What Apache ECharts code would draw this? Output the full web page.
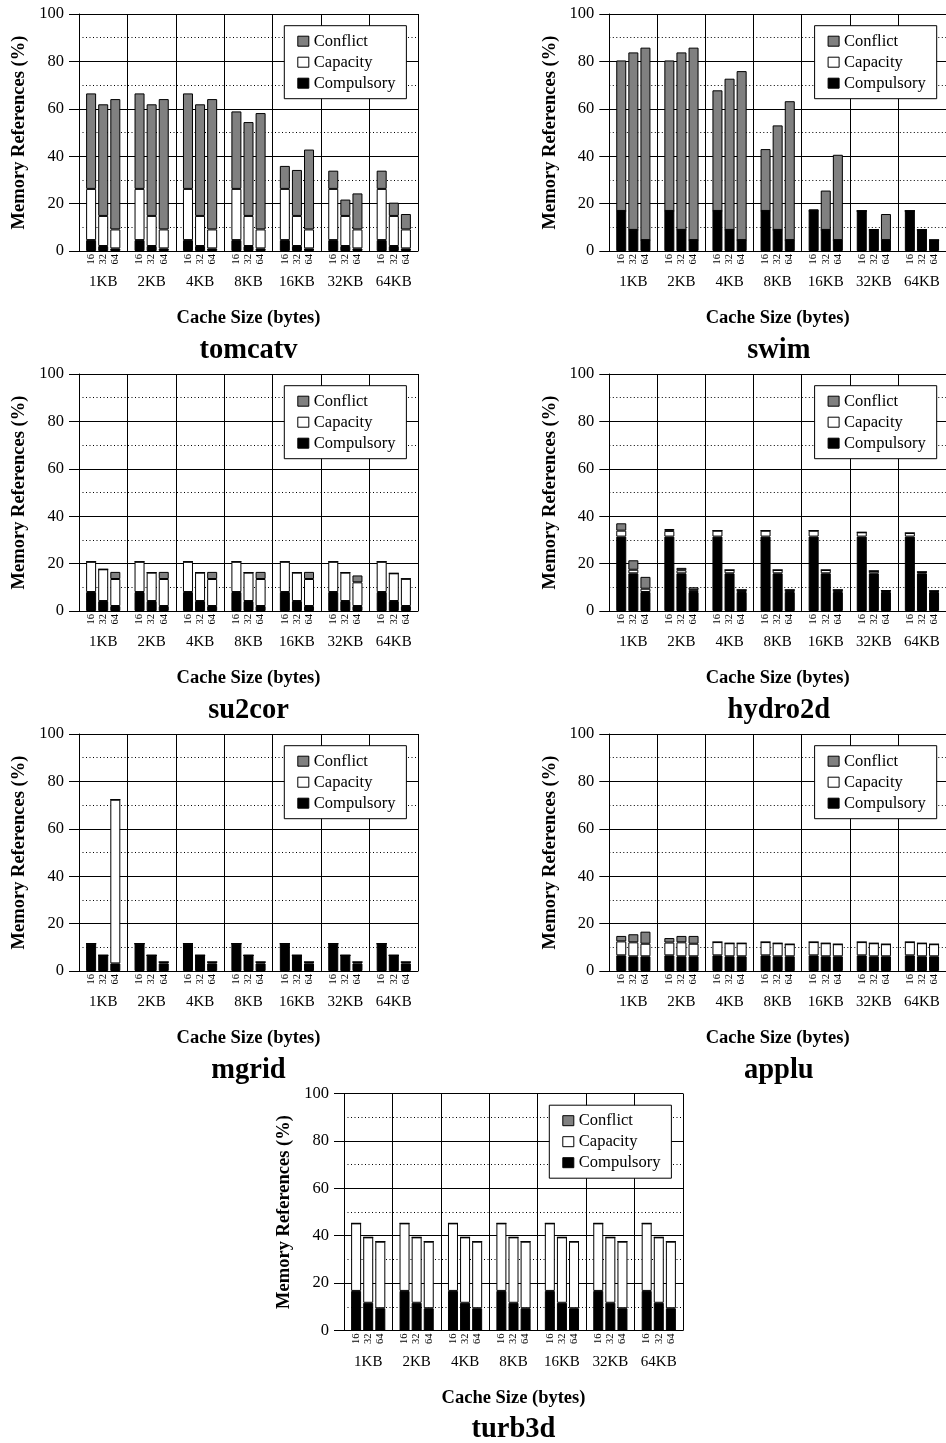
<!DOCTYPE html>
<html>
<head>
<meta charset="utf-8">
<script src="https://cdn.jsdelivr.net/npm/echarts@6/dist/echarts.min.js"></script>
<style>
html,body{margin:0;padding:0;background:#fff;}
#chart{width:946px;height:1443px;}
</style>
</head>
<body>
<div id="chart"></div>
<script>
// ---------------- DATA ----------------
const cacheSizes = ['1KB', '2KB', '4KB', '8KB', '16KB', '32KB', '64KB'];
const blockSizes = ['16', '32', '64'];
const componentNames = ['Compulsory', 'Capacity', 'Conflict'];
const benchmarks = ['tomcatv', 'swim', 'su2cor', 'hydro2d', 'mgrid', 'applu', 'turb3d'];

// each array: rows = block size 16 / 32 / 64, columns = cache sizes 1KB..64KB
const tomcatvCompulsory = [
  [4.6, 4.6, 4.6, 4.6, 4.6, 4.6, 4.6],
  [2.1, 2.1, 2.1, 2.1, 2.1, 2.1, 2.1],
  [1.1, 1.1, 1.1, 1.1, 1.1, 1.1, 1.1]];
const tomcatvCapacity = [
  [21.6, 21.6, 21.6, 21.6, 21.6, 21.6, 21.6],
  [12.7, 12.7, 12.7, 12.7, 12.7, 12.7, 12.7],
  [8.0, 8.0, 8.0, 8.0, 8.0, 8.0, 8.0]];
const tomcatvConflict = [
  [40.3, 40.3, 40.3, 32.7, 9.7, 7.7, 7.7],
  [47.1, 47.1, 47.1, 39.6, 19.4, 6.9, 5.6],
  [55.0, 55.0, 55.0, 49.1, 33.7, 15.2, 6.5]];

const swimCompulsory = [
  [16.9, 16.9, 16.9, 16.9, 16.9, 16.9, 16.9],
  [8.9, 8.9, 8.9, 8.9, 8.9, 8.9, 8.9],
  [4.6, 4.6, 4.6, 4.6, 4.6, 4.6, 4.6]];
const swimCapacity = [
  [0, 0, 0, 0, 0, 0, 0],
  [0, 0, 0, 0, 0, 0, 0],
  [0, 0, 0, 0, 0, 0, 0]];
const swimConflict = [
  [63.5, 63.5, 50.9, 26.1, 0.7, 0, 0],
  [74.9, 74.9, 63.8, 44.1, 16.6, 0.3, 0],
  [81.2, 81.2, 71.3, 58.6, 36.0, 11.0, 0]];

const su2corCompulsory = [
  [8.0, 8.0, 8.0, 8.0, 8.0, 8.0, 8.0],
  [4.2, 4.2, 4.2, 4.2, 4.2, 4.2, 4.2],
  [2.1, 2.1, 2.1, 2.1, 2.1, 2.1, 2.1]];
const su2corCapacity = [
  [12.8, 12.8, 12.8, 12.8, 12.8, 12.8, 12.8],
  [13.4, 12.0, 12.0, 12.0, 12.0, 12.0, 11.7],
  [11.4, 11.4, 11.4, 11.4, 11.4, 10.0, 11.5]];
const su2corConflict = [
  [0, 0, 0, 0, 0, 0, 0],
  [0, 0, 0, 0, 0, 0, 0],
  [3.0, 3.0, 3.0, 3.0, 3.0, 2.9, 0]];

const hydro2dCompulsory = [
  [31.4, 31.4, 31.4, 31.4, 31.4, 31.4, 31.4],
  [15.9, 15.9, 15.9, 15.9, 15.9, 15.9, 15.9],
  [8.0, 8.0, 8.0, 8.0, 8.0, 8.0, 8.0]];
const hydro2dCapacity = [
  [2.5, 2.4, 2.5, 2.5, 2.5, 1.8, 1.5],
  [1.5, 1.3, 1.4, 1.4, 1.4, 1.0, 0.6],
  [1.4, 0.8, 0.9, 0.9, 0.9, 0.6, 0.5]];
const hydro2dConflict = [
  [3.1, 0.8, 0, 0, 0, 0, 0],
  [4.0, 1.0, 0, 0, 0, 0, 0],
  [5.0, 1.2, 0, 0, 0, 0, 0]];

const mgridCompulsory = [
  [11.5, 11.5, 11.5, 11.5, 11.5, 11.5, 11.5],
  [6.6, 6.6, 6.6, 6.6, 6.6, 6.6, 6.6],
  [3.2, 3.2, 3.2, 3.2, 3.2, 3.2, 3.2]];
const mgridCapacity = [
  [0, 0, 0, 0, 0, 0, 0],
  [0, 0, 0, 0, 0, 0, 0],
  [69.1, 0.6, 0.6, 0.6, 0.6, 0.6, 0.6]];
const mgridConflict = [
  [0, 0, 0, 0, 0, 0, 0],
  [0, 0, 0, 0, 0, 0, 0],
  [0, 0, 0, 0, 0, 0, 0]];

const appluCompulsory = [
  [6.6, 6.6, 6.6, 6.6, 6.6, 6.6, 6.6],
  [6.2, 6.2, 6.2, 6.2, 6.2, 6.2, 6.2],
  [6.2, 6.2, 6.2, 6.2, 6.2, 6.2, 6.2]];
const appluCapacity = [
  [5.9, 5.4, 5.6, 5.6, 5.6, 5.6, 5.6],
  [5.9, 5.9, 5.5, 5.5, 5.5, 5.5, 5.5],
  [5.3, 5.3, 5.5, 5.1, 5.1, 5.1, 5.1]];
const appluConflict = [
  [2.3, 1.9, 0, 0, 0, 0, 0],
  [3.4, 2.7, 0, 0, 0, 0, 0],
  [5.1, 3.3, 0, 0, 0, 0, 0]];

const turb3dCompulsory = [
  [16.7, 16.7, 16.7, 16.7, 16.7, 16.7, 16.7],
  [11.7, 11.7, 11.7, 11.7, 11.7, 11.7, 11.7],
  [9.4, 9.4, 9.4, 9.4, 9.4, 9.4, 9.4]];
const turb3dCapacity = [
  [28.5, 28.5, 28.5, 28.5, 28.5, 28.5, 28.5],
  [27.6, 27.6, 27.6, 27.6, 27.6, 27.6, 27.6],
  [28.1, 28.1, 28.1, 28.1, 28.1, 28.1, 28.1]];
const turb3dConflict = [
  [0, 0, 0, 0, 0, 0, 0],
  [0, 0, 0, 0, 0, 0, 0],
  [0, 0, 0, 0, 0, 0, 0]];

const yMin = 0, yMax = 100, yInterval = 20;

// ---------------- LAYOUT ----------------
const FONT = 'Liberation Serif';
const PW = 339, PH = 237;
const panelPos = [
  [79, 14], [609.3, 14],
  [79, 374], [609.3, 374],
  [79, 734], [609.3, 734],
  [344, 1093.5]
];
const panelData = [
  [tomcatvCompulsory, tomcatvCapacity, tomcatvConflict],
  [swimCompulsory, swimCapacity, swimConflict],
  [su2corCompulsory, su2corCapacity, su2corConflict],
  [hydro2dCompulsory, hydro2dCapacity, hydro2dConflict],
  [mgridCompulsory, mgridCapacity, mgridConflict],
  [appluCompulsory, appluCapacity, appluConflict],
  [turb3dCompulsory, turb3dCapacity, turb3dConflict]
];
const fills = ['#000000', '#ffffff', '#808080'];

const grid = [], xAxis = [], yAxis = [], series = [], title = [], legend = [];

benchmarks.forEach((bm, i) => {
  const [L, T] = panelPos[i];
  grid.push({left: L, top: T, width: PW, height: PH});
  grid.push({left: L, top: T, width: PW, height: PH});
  const g = 2 * i;
  xAxis.push({
    type: 'category', gridIndex: g, data: cacheSizes,
    name: 'Cache Size (bytes)', nameLocation: 'middle', nameGap: 58,
    nameTextStyle: {fontFamily: FONT, fontWeight: 'bold', fontSize: 18.5, color: '#000'},
    axisLine: {show: true, lineStyle: {color: '#000', width: 1}},
    axisTick: {show: false},
    axisLabel: {fontFamily: FONT, fontSize: 15, color: '#000', margin: 24, interval: 0},
    splitLine: {show: true, lineStyle: {color: '#000', width: 1}}
  });
  xAxis.push({
    type: 'value', gridIndex: g + 1, min: 0, max: cacheSizes.length * 4, interval: 1,
    axisLine: {show: false}, axisTick: {show: false}, splitLine: {show: false},
    axisLabel: {
      fontFamily: FONT, fontSize: 10.5, color: '#000', rotate: 90, margin: 3,
      formatter: v => (v % 4 === 0 ? '' : blockSizes[(v % 4) - 1])
    }
  });
  yAxis.push({
    type: 'value', gridIndex: g, min: yMin, max: yMax, interval: yInterval,
    name: 'Memory References (%)', nameLocation: 'middle', nameGap: 50,
    nameTextStyle: {fontFamily: FONT, fontWeight: 'bold', fontSize: 18.5, color: '#000'},
    axisLine: {show: true, lineStyle: {color: '#000', width: 1}},
    axisTick: {show: true, length: 10, lineStyle: {color: '#000', width: 1}},
    axisLabel: {fontFamily: FONT, fontSize: 16.5, color: '#000', margin: 15},
    splitLine: {show: true, lineStyle: {color: '#000', width: 1}},
    minorTick: {show: false, splitNumber: 2},
    minorSplitLine: {show: true, lineStyle: {color: '#000', width: 1, type: [1, 2.5]}}
  });
  yAxis.push({type: 'value', gridIndex: g + 1, min: 0, max: 100, show: false});

  blockSizes.forEach((bs, b) => {
    componentNames.forEach((cn, c) => {
      series.push({
        type: 'bar', name: cn, xAxisIndex: g, yAxisIndex: g,
        stack: 'p' + i + 'b' + b,
        barWidth: 10, barGap: '21%',
        itemStyle: {color: fills[c], borderColor: '#000', borderWidth: 1},
        emphasis: {disabled: true},
        data: panelData[i][c][b]
      });
    });
  });

  title.push({
    text: bm, left: L + PW / 2, top: T + 322, textAlign: 'center', padding: 0,
    textStyle: {fontFamily: FONT, fontWeight: 'bold', fontSize: 28.5, color: '#000'}
  });
  legend.push({
    data: ['Conflict', 'Capacity', 'Compulsory'],
    orient: 'vertical', left: L + 205.3, top: T + 11.7,
    backgroundColor: '#fff', borderColor: '#000', borderWidth: 1,
    padding: [7, 11, 7, 13], itemGap: 4, itemWidth: 11, itemHeight: 10,
    icon: 'rect', selectedMode: false,
    itemStyle: {borderColor: '#000', borderWidth: 1},
    textStyle: {fontFamily: FONT, fontSize: 16.5, color: '#000'}
  });
});

const chart = echarts.init(document.getElementById('chart'), null, {renderer: 'canvas'});
chart.setOption({
  animation: false,
  backgroundColor: '#fff',
  textStyle: {fontFamily: FONT},
  title, legend, grid, xAxis, yAxis, series
});
</script>
</body>
</html>
